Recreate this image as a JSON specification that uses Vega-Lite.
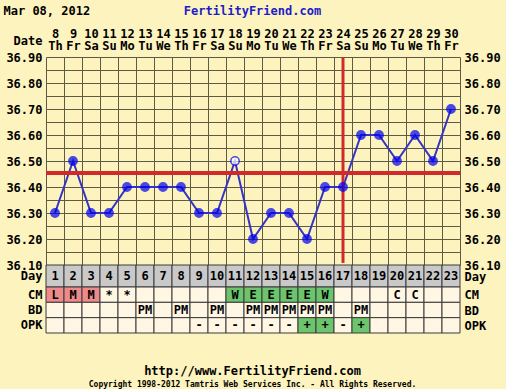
{
  "$schema": "https://vega.github.io/schema/vega-lite/v6.json",
  "width": 414,
  "height": 276,
  "autosize": {"type": "none"},
  "padding": {"left": 46, "top": 57, "right": 46, "bottom": 56},
  "background": "#FDF3BE",
  "config": {
    "view": {"stroke": null, "fill": "#FDF3BE"},
    "font": "DejaVu Sans Mono",
    "axis": {
      "labelFont": "DejaVu Sans Mono", "labelFontWeight": "bold", "labelFontSize": 12, "labelColor": "#000000",
      "titleFont": "DejaVu Sans Mono", "titleFontWeight": "bold", "titleFontSize": 12, "titleColor": "#000000",
      "ticks": false, "domain": false, "grid": false, "labelOverlap": false, "labelBound": false, "labelFlush": false
    }
  },
  "datasets": {
    "days": [
      {"date": "2012-03-08", "cd": 1, "temp": 36.30, "open": false, "CM": "L", "BD": "", "OPK": ""},
      {"date": "2012-03-09", "cd": 2, "temp": 36.50, "open": false, "CM": "M", "BD": "", "OPK": ""},
      {"date": "2012-03-10", "cd": 3, "temp": 36.30, "open": false, "CM": "M", "BD": "", "OPK": ""},
      {"date": "2012-03-11", "cd": 4, "temp": 36.30, "open": false, "CM": "*", "BD": "", "OPK": ""},
      {"date": "2012-03-12", "cd": 5, "temp": 36.40, "open": false, "CM": "*", "BD": "", "OPK": ""},
      {"date": "2012-03-13", "cd": 6, "temp": 36.40, "open": false, "CM": "", "BD": "PM", "OPK": ""},
      {"date": "2012-03-14", "cd": 7, "temp": 36.40, "open": false, "CM": "", "BD": "", "OPK": ""},
      {"date": "2012-03-15", "cd": 8, "temp": 36.40, "open": false, "CM": "", "BD": "PM", "OPK": ""},
      {"date": "2012-03-16", "cd": 9, "temp": 36.30, "open": false, "CM": "", "BD": "", "OPK": "-"},
      {"date": "2012-03-17", "cd": 10, "temp": 36.30, "open": false, "CM": "", "BD": "PM", "OPK": "-"},
      {"date": "2012-03-18", "cd": 11, "temp": 36.50, "open": true, "CM": "W", "BD": "", "OPK": "-"},
      {"date": "2012-03-19", "cd": 12, "temp": 36.20, "open": false, "CM": "E", "BD": "PM", "OPK": "-"},
      {"date": "2012-03-20", "cd": 13, "temp": 36.30, "open": false, "CM": "E", "BD": "PM", "OPK": "-"},
      {"date": "2012-03-21", "cd": 14, "temp": 36.30, "open": false, "CM": "E", "BD": "PM", "OPK": "-"},
      {"date": "2012-03-22", "cd": 15, "temp": 36.20, "open": false, "CM": "E", "BD": "PM", "OPK": "+"},
      {"date": "2012-03-23", "cd": 16, "temp": 36.40, "open": false, "CM": "W", "BD": "PM", "OPK": "+"},
      {"date": "2012-03-24", "cd": 17, "temp": 36.40, "open": false, "CM": "", "BD": "", "OPK": "-"},
      {"date": "2012-03-25", "cd": 18, "temp": 36.60, "open": false, "CM": "", "BD": "PM", "OPK": "+"},
      {"date": "2012-03-26", "cd": 19, "temp": 36.60, "open": false, "CM": "", "BD": "", "OPK": ""},
      {"date": "2012-03-27", "cd": 20, "temp": 36.50, "open": false, "CM": "C", "BD": "", "OPK": ""},
      {"date": "2012-03-28", "cd": 21, "temp": 36.60, "open": false, "CM": "C", "BD": "", "OPK": ""},
      {"date": "2012-03-29", "cd": 22, "temp": 36.50, "open": false, "CM": "", "BD": "", "OPK": ""},
      {"date": "2012-03-30", "cd": 23, "temp": 36.70, "open": false, "CM": "", "BD": "", "OPK": ""}
    ]
  },
  "data": {"name": "days"},
  "resolve": {"scale": {"y": "independent"}, "axis": {"x": "independent", "y": "independent"}},
  "layer": [
    {
      "mark": {"type": "line", "color": "#3434c4", "strokeWidth": 2},
      "encoding": {
        "x": {"field": "date", "type": "ordinal", "timeUnit": "utcyearmonthdate", "scale": {"paddingInner": 0, "paddingOuter": 0},
          "axis": {"orient": "top", "grid": true, "gridColor": "#5e5a44", "gridOpacity": 1, "tickBand": "extent",
            "labelExpr": "isFinite(toNumber(datum.value)) ? [utcFormat(datum.value, '%-d'), slice(utcFormat(datum.value, '%a'), 0, 2)] : ''",
            "labelBaseline": "middle", "labelLineHeight": 12, "labelPadding": 24, "labelAngle": 0,
            "title": "Date", "titleX": -4, "titleY": -17, "titleAlign": "right", "titleBaseline": "middle", "titleAngle": 0}},
        "y": {"field": "temp", "type": "quantitative", "scale": {"domain": [36.1, 36.9], "range": [208, 0], "nice": false, "zero": false},
          "axis": {"orient": "left", "grid": true, "gridColor": "#5e5a44", "gridOpacity": 1,
            "values": [36.1, 36.15, 36.2, 36.25, 36.3, 36.35, 36.4, 36.45, 36.5, 36.55, 36.6, 36.65, 36.7, 36.75, 36.8, 36.85, 36.9],
            "labelExpr": "abs(datum.value * 10 - round(datum.value * 10)) < 0.01 ? format(datum.value, '.2f') : ''",
            "labelPadding": 4, "title": null}}
      }
    },
    {
      "mark": {"type": "rule", "color": "#d22a2a", "strokeWidth": 3},
      "encoding": {
        "y": {"datum": 36.455, "type": "quantitative", "scale": {"domain": [36.1, 36.9], "range": [208, 0], "nice": false, "zero": false}, "axis": null}
      }
    },
    {
      "transform": [{"filter": "datum.cd == 17"}],
      "mark": {"type": "rule", "color": "#d22a2a", "strokeWidth": 3},
      "encoding": {
        "x": {"field": "date", "type": "ordinal", "timeUnit": "utcyearmonthdate",
          "axis": {"orient": "top", "labels": false, "title": "FertilityFriend.com", "titleColor": "#1c1cc8",
            "titleX": 206, "titleY": -47, "titleAlign": "center", "titleBaseline": "middle", "titleAngle": 0}},
        "y": {"datum": 36.9, "type": "quantitative", "scale": {"domain": [36.1, 36.9], "range": [208, 0], "nice": false, "zero": false}, "axis": null},
        "y2": {"datum": 36.108}
      }
    },
    {
      "mark": {"type": "point", "filled": true, "size": 70, "stroke": "#0000ee", "strokeWidth": 1.5},
      "encoding": {
        "x": {"field": "date", "type": "ordinal", "timeUnit": "utcyearmonthdate",
          "axis": {"orient": "top", "labels": false, "title": "Mar 08, 2012",
            "titleX": -43, "titleY": -47, "titleAlign": "left", "titleBaseline": "middle", "titleAngle": 0}},
        "y": {"field": "temp", "type": "quantitative", "scale": {"domain": [36.1, 36.9], "range": [208, 0], "nice": false, "zero": false},
          "axis": {"orient": "right",
            "values": [36.1, 36.2, 36.3, 36.4, 36.5, 36.6, 36.7, 36.8, 36.9],
            "format": ".2f", "labelPadding": 4, "title": null}},
        "fill": {"condition": {"test": "datum.open", "value": "#ffffff"}, "value": "#0000ee"}
      }
    },
    {
      "mark": {"type": "rect", "fill": "#C9C9C9", "stroke": "#3a3a3a", "strokeWidth": 1},
      "encoding": {
        "x": {"field": "date", "type": "ordinal", "timeUnit": "utcyearmonthdate",
          "axis": {"orient": "bottom", "labels": false, "title": "http://www.FertilityFriend.com",
            "titleX": 206, "titleY": 37, "titleAlign": "center", "titleBaseline": "middle", "titleAngle": 0}},
        "y": {"datum": "Day", "type": "nominal", "scale": {"domain": ["Day"], "range": [208, 230], "paddingInner": 0, "paddingOuter": 0},
          "axis": {"orient": "left", "labelPadding": 4, "title": null}}
      }
    },
    {
      "mark": {"type": "text", "font": "DejaVu Sans Mono", "fontWeight": "bold", "fontSize": 12, "color": "#000000"},
      "encoding": {
        "x": {"field": "date", "type": "ordinal", "timeUnit": "utcyearmonthdate",
          "axis": {"orient": "bottom", "labels": false, "title": "Copyright 1998-2012 Tamtris Web Services Inc. - All Rights Reserved.",
            "titleFontSize": 8, "titleX": 206, "titleY": 51, "titleAlign": "center", "titleBaseline": "middle", "titleAngle": 0}},
        "y": {"datum": "Day", "type": "nominal", "scale": {"domain": ["Day"], "range": [208, 230], "paddingInner": 0, "paddingOuter": 0},
          "axis": {"orient": "right", "labelPadding": 4, "title": null}},
        "text": {"field": "cd"}
      }
    },
    {
      "transform": [{"fold": ["CM", "BD", "OPK"], "as": ["row", "value"]}],
      "mark": {"type": "rect", "stroke": "#3a3a3a", "strokeWidth": 1},
      "encoding": {
        "x": {"field": "date", "type": "ordinal", "timeUnit": "utcyearmonthdate", "axis": null},
        "y": {"field": "row", "type": "nominal", "scale": {"domain": ["CM", "BD", "OPK"], "range": [230, 276], "paddingInner": 0, "paddingOuter": 0},
          "axis": {"orient": "left", "labelPadding": 4, "title": null}},
        "fill": {"condition": [
          {"test": "datum.value === 'L' || datum.value === 'M'", "value": "#EE8A8A"},
          {"test": "datum.value === 'W' || datum.value === 'E' || datum.value === '+'", "value": "#6CC46C"}
        ], "value": "#FFF6E4"}
      }
    },
    {
      "transform": [{"fold": ["CM", "BD", "OPK"], "as": ["row", "value"]}],
      "mark": {"type": "text", "font": "DejaVu Sans Mono", "fontWeight": "bold", "fontSize": 12, "color": "#000000"},
      "encoding": {
        "x": {"field": "date", "type": "ordinal", "timeUnit": "utcyearmonthdate", "axis": null},
        "y": {"field": "row", "type": "nominal", "scale": {"domain": ["CM", "BD", "OPK"], "range": [230, 276], "paddingInner": 0, "paddingOuter": 0},
          "axis": {"orient": "right", "labelPadding": 4, "title": null}},
        "text": {"field": "value"}
      }
    }
  ]
}
